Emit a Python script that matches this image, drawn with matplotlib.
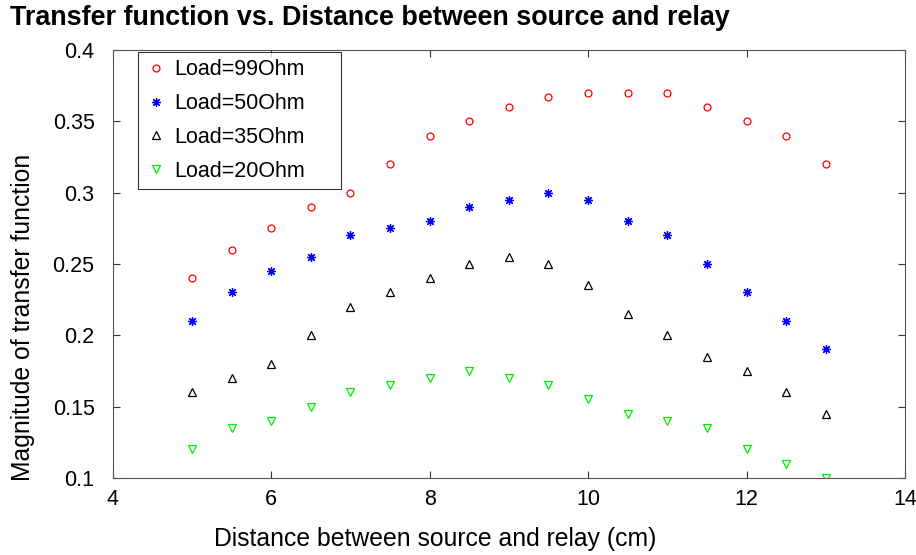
import numpy as np
import matplotlib.pyplot as plt

plt.rcParams['font.family'] = ['Liberation Sans', 'DejaVu Sans']

distance = [5, 5.5, 6, 6.5, 7, 7.5, 8, 8.5, 9, 9.5, 10, 10.5, 11, 11.5, 12, 12.5, 13]
load99 = [0.24, 0.26, 0.275, 0.29, 0.30, 0.32, 0.34, 0.35, 0.36, 0.367, 0.37, 0.37, 0.37, 0.36, 0.35, 0.34, 0.32]
load50 = [0.21, 0.23, 0.245, 0.255, 0.27, 0.275, 0.28, 0.29, 0.295, 0.30, 0.295, 0.28, 0.27, 0.25, 0.23, 0.21, 0.19]
load35 = [0.16, 0.17, 0.18, 0.20, 0.22, 0.23, 0.24, 0.25, 0.255, 0.25, 0.235, 0.215, 0.20, 0.185, 0.175, 0.16, 0.145]
load20 = [0.12, 0.135, 0.14, 0.15, 0.16, 0.165, 0.17, 0.175, 0.17, 0.165, 0.155, 0.145, 0.14, 0.135, 0.12, 0.11, 0.10]

fig = plt.figure(figsize=(9.16, 5.55), dpi=100)
ax = fig.add_axes([0.123, 0.139, 0.865, 0.771])

ax.plot(distance, load99, 'o', mfc='none', mec='red', ms=5, mew=0.9, label='Load=99Ohm')
ax.plot(distance, load50, marker=(8, 2, 0), ls='none', color='blue', ms=6.5, mew=0.9, label='Load=50Ohm')
ax.plot(distance, load35, '^', mfc='none', mec='black', ms=5.5, mew=0.9, label='Load=35Ohm')
ax.plot(distance, load20, 'v', mfc='none', mec='#00ee00', ms=5.5, mew=0.9, label='Load=20Ohm')

ax.set_xlim(4, 14)
ax.set_ylim(0.1, 0.4)
ax.set_xticks([4, 6, 8, 10, 12, 14])
ax.set_yticks([0.1, 0.15, 0.2, 0.25, 0.3, 0.35, 0.4])
ax.set_yticklabels(['0.1', '0.15', '0.2', '0.25', '0.3', '0.35', '0.4'])
ax.tick_params(direction='in', top=True, right=True, labelsize=15.5, length=5, color='#333333')
ax.tick_params(axis='x', pad=8)
ax.tick_params(axis='y', pad=13)
for s in ax.spines.values():
    s.set_color('#555555')

# labels are offset from the axes centre, as in the original figure
ax.set_xlabel('Distance between source and relay (cm)', fontsize=17.8, va='center')
ax.xaxis.set_label_coords(0.407, -0.1425)
ax.set_ylabel('Magnitude of transfer function', fontsize=17.8, va='center')
ax.yaxis.set_label_coords(-0.1136, 0.374)
fig.text(0.011, 0.968, 'Transfer function vs. Distance between source and relay',
         fontsize=19.4, fontweight='bold', va='center', ha='left')

leg = ax.legend(loc='upper left', bbox_to_anchor=(0.0316, 0.995, 0.256, 0.0), mode='expand',
                fontsize=15.5, frameon=True, fancybox=False, edgecolor='black',
                labelspacing=0.6, handlelength=1.0, handletextpad=0.37, borderpad=0.33,
                borderaxespad=0)
leg.get_frame().set_linewidth(0.8)

fig.savefig('out.png', dpi=100)
